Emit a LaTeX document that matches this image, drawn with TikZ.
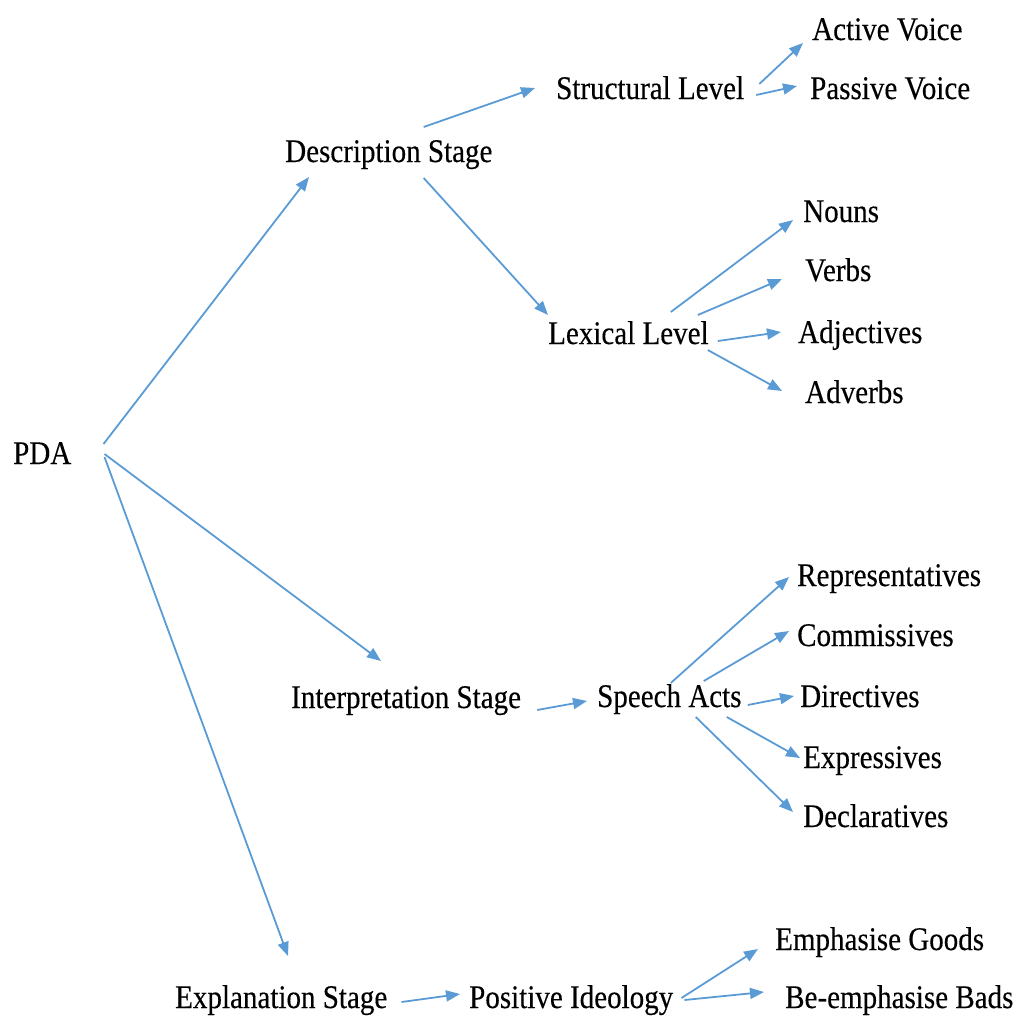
\documentclass[tikz,border=0pt]{standalone}
\usepackage{fontspec}
\setmainfont[FakeStretch=0.88,FakeBold=0.3]{Liberation Serif}
\usetikzlibrary{arrows.meta,calc}
\definecolor{linkblue}{RGB}{91,155,213}

\begin{document}
\begin{tikzpicture}[
			x=1pt, y=-1pt,
			term/.style={anchor=base west, inner sep=0pt, font=\fontsize{33}{40}\selectfont},
			link/.style={draw=linkblue, line width=1.8pt, -{Triangle[length=14pt,width=11pt]}}
			]
			\useasboundingbox (0,0) rectangle (1016,1017);
			
			% root and stages
			\node[term] (pda) at (13,464) {PDA};
			\node[term] (desc) at (285,162) {Description Stage};
			\node[term] (interp) at (291,708) {Interpretation Stage};
			\node[term] (expl) at (175,1008) {Explanation Stage};
			
			% description branch
			\node[term] (struct) at (556,99) {Structural Level};
			\node[term] (active) at (812,40) {Active Voice};
			\node[term] (passive) at (810,99) {Passive Voice};
			\node[term] (lexical) at (548,344) {Lexical Level};
			\node[term] (nouns) at (803,222) {Nouns};
			\node[term] (verbs) at (805,281) {Verbs};
			\node[term] (adj) at (798,343) {Adjectives};
			\node[term] (adverbs) at (805,403) {Adverbs};
			
			% interpretation branch
			\node[term] (speech) at (597,707) {Speech Acts};
			\node[term] (repr) at (797,586) {Representatives};
			\node[term] (comm) at (797,646) {Commissives};
			\node[term] (dir) at (800,707) {Directives};
			\node[term] (expr) at (803,768) {Expressives};
			\node[term] (decl) at (803,827) {Declaratives};
			
			% explanation branch
			\node[term] (posit) at (469,1008) {Positive Ideology};
			\node[term] (emph) at (775,950) {Emphasise Goods};
			\node[term] (bemph) at (785,1008) {Be-emphasise Bads};
			
			% arrows
			\draw[link] ($(pda.base east)+(32,-20)$) -- ($(desc.base west)+(24,15)$);
			\draw[link] ($(pda.base east)+(33,-10)$) -- ($(interp.base west)+(90,-47)$);
			\draw[link] ($(pda.base east)+(33,-7)$) -- ($(expl.base west)+(113,-52)$);
			\draw[link] ($(desc.base east)+(-69,-35)$) -- ($(struct.base west)+(-21,-11)$);
			\draw[link] ($(desc.base east)+(-69,16)$) -- ($(lexical.base west)+(0,-29)$);
			\draw[link] ($(struct.base east)+(15,-15)$) -- ($(active.base west)+(-9,3)$);
			\draw[link] ($(struct.base east)+(12,-4)$) -- ($(passive.base west)+(-13,-13)$);
			\draw[link] ($(lexical.base east)+(-38,-32)$) -- ($(nouns.base west)+(-10,-2)$);
			\draw[link] ($(lexical.base east)+(-11,-29)$) -- ($(verbs.base west)+(-23,-2)$);
			\draw[link] ($(lexical.base east)+(9,-3)$) -- ($(adj.base west)+(-17,-11)$);
			\draw[link] ($(lexical.base east)+(-1,6)$) -- ($(adverbs.base west)+(-23,-12)$);
			\draw[link] ($(interp.base east)+(16,2)$) -- ($(speech.base west)+(-10,-6)$);
			\draw[link] ($(speech.base east)+(-71,-24)$) -- ($(repr.base west)+(-8,-9)$);
			\draw[link] ($(speech.base east)+(-38,-26)$) -- ($(comm.base west)+(-8,-15)$);
			\draw[link] ($(speech.base east)+(6,-2)$) -- ($(dir.base west)+(-6,-11)$);
			\draw[link] ($(speech.base east)+(-15,10)$) -- ($(expr.base west)+(-3,-10)$);
			\draw[link] ($(speech.base east)+(-46,10)$) -- ($(decl.base west)+(-10,-15)$);
			\draw[link] ($(expl.base east)+(14,-6)$) -- ($(posit.base west)+(-9,-14)$);
			\draw[link] ($(posit.base east)+(8,-10)$) -- ($(emph.base west)+(-17,-1)$);
			\draw[link] ($(posit.base east)+(11,-8)$) -- ($(bemph.base west)+(-21,-16)$);
		\end{tikzpicture}
\end{document}
